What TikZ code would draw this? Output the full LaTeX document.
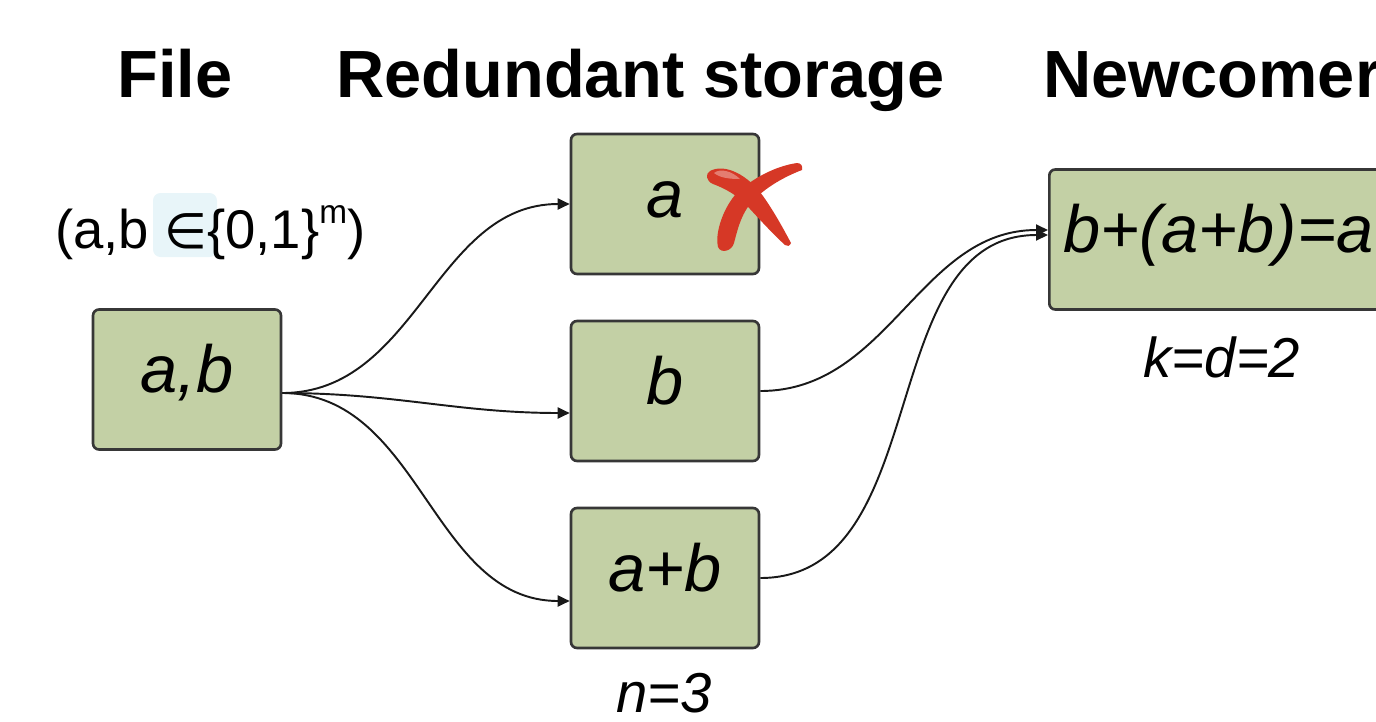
\documentclass[tikz,border=0pt]{standalone}
\usepackage{fontspec}
\setmainfont{Liberation Sans}
\newfontfamily\dejavu{DejaVu Sans}
\usetikzlibrary{arrows.meta}
\definecolor{boxgreen}{RGB}{195,208,165}
\definecolor{boxline}{RGB}{55,55,55}
\definecolor{xred}{RGB}{214,56,38}
\definecolor{hl}{RGB}{232,245,249}
\tikzset{
  stbox/.style={rectangle, rounded corners=0.12cm, draw=boxline, line width=1.5pt, fill=boxgreen,
    minimum width=3.76cm, minimum height=2.8cm, inner sep=0pt,
    font=\fontsize{38}{40}\selectfont\itshape, text height=22.8pt, text depth=8pt},
  title/.style={inner sep=0pt, font=\fontsize{38}{40}\selectfont\bfseries},
  note/.style={inner sep=0pt, font=\fontsize{32}{34}\selectfont\itshape},
  arr/.style={line width=1.1pt, draw=black!90, -{Triangle[length=0.24cm,width=0.22cm]}}
}
\begin{document}
\begin{tikzpicture}[x=0.02cm,y=-0.02cm]
\useasboundingbox (0,0) rectangle (1376,721);
\clip (0,0) rectangle (1376,721);
% titles
\node[title, anchor=base] (tfile) at (175,97) {File};
\node[title, anchor=base west] (tred) at (336,97) {Redundant storage};
\node[title, anchor=base west] (tnew) at (1043,97) {Newcomer};
% file domain note
\fill[hl, rounded corners=0.15cm] (153,193) rectangle (217,257);
\node[inner sep=0pt, anchor=base west, font=\fontsize{31}{33}\selectfont] (dom) at (55,248)
  {(a,b {\dejavu\fontsize{28}{30}\selectfont ∈}\{0,1\}\raisebox{0.45em}{\fontsize{19}{20}\selectfont m})};
% boxes
\node[stbox] (ab) at (187,379.5) {a,b};
\node[stbox] (a) at (665,204) {a};
\node[stbox] (b) at (665,391) {b};
\node[stbox] (apb) at (665,578) {a+b};
\node[stbox, anchor=west, minimum width=0pt, inner xsep=0.28cm] (new) at (1048,239.5) {b+(a+b)=a};
% labels
\node[note, anchor=base] (nlab) at (664,712) {n=3};
\node[note, anchor=base] (klab) at (1222,377) {k=d=2};
% connectors
\draw[arr] ([yshift=-0.27cm]ab.east) to[out=0,in=180] (a.west);
\draw[arr] ([yshift=-0.27cm]ab.east) to[out=0,in=180] ([yshift=-0.44cm]b.west);
\draw[arr] ([yshift=-0.27cm]ab.east) to[out=0,in=180] ([yshift=-0.46cm]apb.west);
\draw[arr] (b.east) to[out=0,in=180] ([yshift=0.19cm]new.west);
\draw[arr] (apb.east) to[out=0,in=180] ([yshift=0.09cm]new.west);
% red cross over box a
\fill[xred] (710,171) .. controls (725,163) and (748,175) .. (763,196)
  .. controls (775,213) and (784,230) .. (791,243)
  .. controls (790,246) and (787,247) .. (785,245)
  .. controls (774,235) and (762,222) .. (750,209)
  .. controls (738,195) and (724,188) .. (713,184)
  .. controls (706,181) and (705,174) .. cycle;
\fill[xred] (802,170) .. controls (781,178) and (762,190) .. (750,204)
  .. controls (740,217) and (737,232) .. (734,243)
  .. controls (732,251) and (721,254) .. (718,247)
  .. controls (715,236) and (721,212) .. (735,195)
  .. controls (752,178) and (776,166) .. (797,163)
  .. controls (801,163) and (803,166) .. cycle;
\fill[white, opacity=0.35] (714,173) .. controls (720,168) and (732,171) .. (740,179)
  .. controls (730,179) and (720,178) .. cycle;
\end{tikzpicture}
\end{document}
